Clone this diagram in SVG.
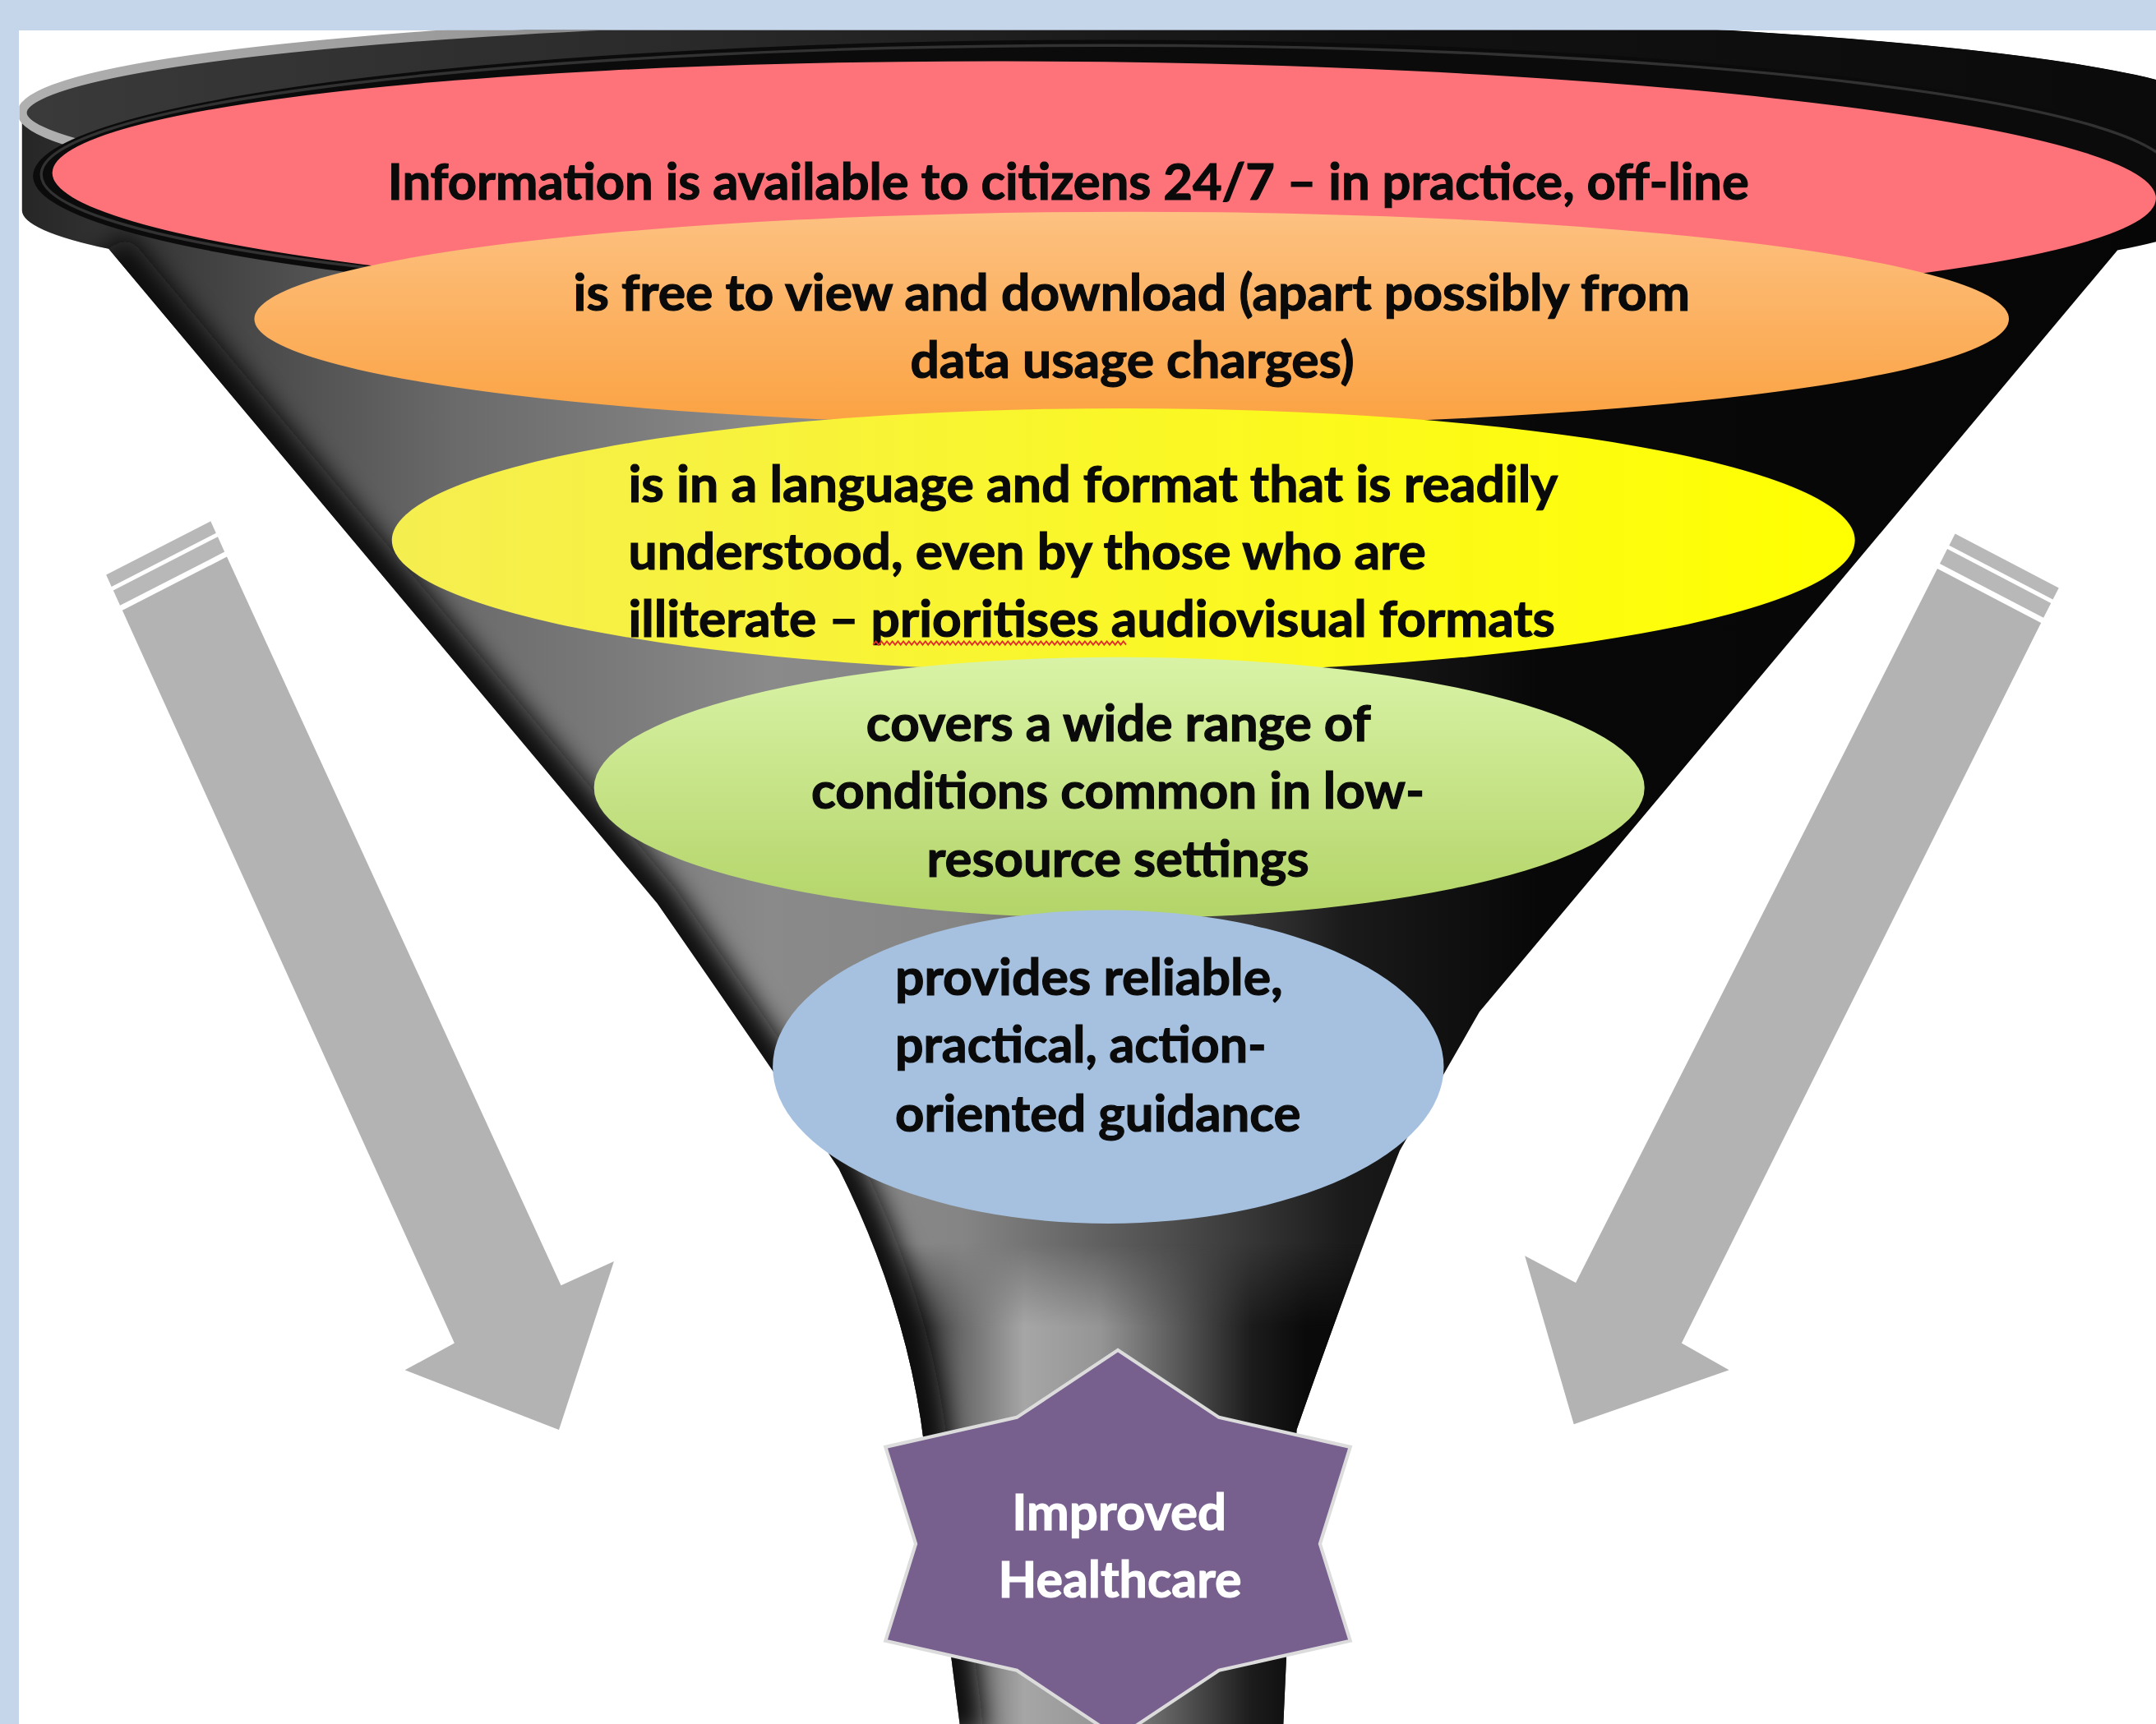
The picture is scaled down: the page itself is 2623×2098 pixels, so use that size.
<svg xmlns="http://www.w3.org/2000/svg" width="2623" height="2098" viewBox="0 0 2623 2098">
<defs>
<style>
.t { font-family: Lato, "Open Sans", "Liberation Sans", sans-serif; font-weight: 700; font-size: 36px; fill: #0a0a0a; stroke: #0a0a0a; stroke-width: 0.7px; }
.w { fill: #ffffff; stroke: #ffffff; }
.arrow { fill: #b3b3b3; }
.band { fill: #b8b8b8; }
</style>
<linearGradient id="gBody" gradientUnits="userSpaceOnUse" x1="16" y1="0" x2="1614" y2="0">
<stop offset="0" stop-color="#262626"/>
<stop offset="0.065" stop-color="#3a3a3a"/>
<stop offset="0.196" stop-color="#6a6a6a"/>
<stop offset="0.34" stop-color="#8a8a8a"/>
<stop offset="0.428" stop-color="#858585"/>
<stop offset="0.522" stop-color="#4e4e4e"/>
<stop offset="0.603" stop-color="#1a1a1a"/>
<stop offset="0.69" stop-color="#080808"/>
<stop offset="1" stop-color="#060606"/>
</linearGradient>
<linearGradient id="gNeck" gradientUnits="userSpaceOnUse" x1="660" y1="0" x2="950" y2="0">
<stop offset="0" stop-color="#222222"/>
<stop offset="0.138" stop-color="#6a6a6a"/>
<stop offset="0.293" stop-color="#a6a6a6"/>
<stop offset="0.483" stop-color="#959595"/>
<stop offset="0.69" stop-color="#555555"/>
<stop offset="0.862" stop-color="#1c1c1c"/>
<stop offset="1" stop-color="#0a0a0a"/>
</linearGradient>
<linearGradient id="gFade" gradientUnits="userSpaceOnUse" x1="0" y1="905" x2="0" y2="965">
<stop offset="0" stop-color="#ffffff" stop-opacity="0"/>
<stop offset="1" stop-color="#ffffff" stop-opacity="1"/>
</linearGradient>
<mask id="mNeck" maskUnits="userSpaceOnUse" x="0" y="0" width="1600" height="1300">
<rect x="600" y="900" width="400" height="370" fill="url(#gFade)"/>
</mask>
<linearGradient id="gRim" gradientUnits="userSpaceOnUse" x1="16" y1="0" x2="1614" y2="0">
<stop offset="0" stop-color="#3a3a3a"/>
<stop offset="0.3" stop-color="#2a2a2a"/>
<stop offset="0.6" stop-color="#121212"/>
<stop offset="1" stop-color="#0a0a0a"/>
</linearGradient>
<linearGradient id="gHi" gradientUnits="userSpaceOnUse" x1="16" y1="0" x2="1614" y2="0">
<stop offset="0" stop-color="#b0b0b0"/>
<stop offset="0.2" stop-color="#9a9a9a"/>
<stop offset="0.45" stop-color="#555555"/>
<stop offset="0.7" stop-color="#222222" stop-opacity="0"/>
<stop offset="1" stop-color="#222222" stop-opacity="0"/>
</linearGradient>
<linearGradient id="gOrange" x1="0" y1="0" x2="0" y2="1">
<stop offset="0" stop-color="#fdc181"/>
<stop offset="1" stop-color="#fba242"/>
</linearGradient>
<linearGradient id="gYellow" x1="0" y1="0" x2="1" y2="0">
<stop offset="0" stop-color="#f5ee50"/>
<stop offset="1" stop-color="#ffff00"/>
</linearGradient>
<linearGradient id="gGreen" x1="0" y1="0" x2="0" y2="1">
<stop offset="0" stop-color="#d9f3a6"/>
<stop offset="1" stop-color="#b3d468"/>
</linearGradient>
<path id="funnelShape" d="M 16 82 A 799 72 0 0 1 1614 82 L 1614 153 A 799 72 0 0 1 1540 182 L 1076 736 Q 1045 790 1018 837 Q 985 920 943 1040 L 933 1262 L 699 1262 L 672 1050 Q 660 950 610 850 Q 560 775 478 657 L 79 181 A 799 72 0 0 1 16 153 Z"/>
<clipPath id="cFunnel"><use href="#funnelShape"/></clipPath>
<clipPath id="cPanel"><rect x="14" y="22" width="1560" height="1240"/></clipPath>
<filter id="blur" x="-20%" y="-20%" width="140%" height="140%"><feGaussianBlur stdDeviation="9"/></filter>
</defs>

<rect x="0" y="0" width="2623" height="2098" fill="#c5d6eb"/>
<rect x="23" y="37" width="2600" height="2061" fill="#ffffff"/>

<g transform="scale(1.67283,1.67305)">
<g clip-path="url(#cPanel)">

<g id="connectors">
<g id="arrow-left">
<polygon class="arrow" points="89,444 165,405 408,935 446.5,917.5 406.5,1040 294.5,996.5 330.5,977"/>
<polygon class="band" points="87.3,440.4 163.3,401.4 158.4,390.4 82.4,429.4"/>
<polygon class="band" points="81.1,426.7 157.1,387.7 153.2,379.1 77.2,418.1"/>
</g>
<g id="arrow-right">
<polygon class="arrow" points="1409,413.6 1484.4,453 1223,977 1257.5,996.6 1144.6,1036 1109,913.5 1146,933"/>
<polygon class="band" points="1410.8,410 1486.2,449.4 1491.6,438.7 1416.2,399.3"/>
<polygon class="band" points="1417.6,396.7 1493,436.1 1497.3,427.6 1421.9,388.2"/>
</g>
</g>

<g id="funnel">
<use href="#funnelShape" fill="url(#gBody)"/>
<g clip-path="url(#cFunnel)">
<rect x="600" y="900" width="400" height="370" fill="url(#gNeck)" mask="url(#mNeck)"/>
<path d="M 79 181 L 478 657 Q 560 775 610 850 Q 660 950 672 1050 L 699 1262" fill="none" stroke="#0a0a0a" stroke-width="34" filter="url(#blur)"/>
<ellipse cx="815" cy="82" rx="799" ry="72" fill="url(#gRim)"/>
</g>
<ellipse cx="815" cy="82" rx="799" ry="72" fill="none" stroke="url(#gHi)" stroke-width="7"/>
<ellipse cx="806" cy="128" rx="782" ry="99" fill="#0b0b0b"/>
<ellipse cx="805" cy="127" rx="775" ry="94" fill="none" stroke="#5a5a5a" stroke-width="2" opacity="0.5"/>
</g>

<g id="node-available">
<ellipse cx="803" cy="135" rx="765" ry="90" fill="#fe737a" transform="rotate(0.7 803 135)"/>
<text class="t" x="282" y="145" textLength="990" lengthAdjust="spacingAndGlyphs">Information is available to citizens 24/7 – in practice, off-line</text>
</g>

<g id="node-free">
<ellipse cx="823" cy="232" rx="638" ry="78" fill="url(#gOrange)"/>
<text class="t" x="417" y="226" textLength="812" lengthAdjust="spacingAndGlyphs">is free to view and download (apart possibly from</text>
<text class="t" x="662" y="275" textLength="323" lengthAdjust="spacingAndGlyphs">data usage charges)</text>
</g>

<g id="node-language">
<ellipse cx="817" cy="393" rx="532" ry="96" fill="url(#gYellow)"/>
<text class="t" x="457" y="365" textLength="676" lengthAdjust="spacingAndGlyphs">is in a language and format that is readily</text>
<text class="t" x="457" y="414" textLength="580" lengthAdjust="spacingAndGlyphs">understood, even by those who are</text>
<text class="t" x="457" y="463" textLength="674" lengthAdjust="spacingAndGlyphs">illiterate – prioritises audiovisual formats</text>
<path d="M 635 469 l2 -2.5 l2 2.5 l2 -2.5 l2 2.5 l2 -2.5 l2 2.5 l2 -2.5 l2 2.5 l2 -2.5 l2 2.5 l2 -2.5 l2 2.5 l2 -2.5 l2 2.5 l2 -2.5 l2 2.5 l2 -2.5 l2 2.5 l2 -2.5 l2 2.5 l2 -2.5 l2 2.5 l2 -2.5 l2 2.5 l2 -2.5 l2 2.5 l2 -2.5 l2 2.5 l2 -2.5 l2 2.5 l2 -2.5 l2 2.5 l2 -2.5 l2 2.5 l2 -2.5 l2 2.5 l2 -2.5 l2 2.5 l2 -2.5 l2 2.5 l2 -2.5 l2 2.5 l2 -2.5 l2 2.5 l2 -2.5 l2 2.5 l2 -2.5 l2 2.5 l2 -2.5 l2 2.5 l2 -2.5 l2 2.5 l2 -2.5 l2 2.5 l2 -2.5 l2 2.5 l2 -2.5 l2 2.5 l2 -2.5 l2 2.5 l2 -2.5 l2 2.5 l2 -2.5 l2 2.5 l2 -2.5 l2 2.5 l2 -2.5 l2 2.5 l2 -2.5 l2 2.5 l2 -2.5 l2 2.5 l2 -2.5 l2 2.5 l2 -2.5 l2 2.5 l2 -2.5 l2 2.5 l2 -2.5 l2 2.5 l2 -2.5 l2 2.5 l2 -2.5 l2 2.5 l2 -2.5 l2 2.5 l2 -2.5 l2 2.5 l2 -2.5 l2 2.5 l2 -2.5 l2 2.5" fill="none" stroke="#e0302a" stroke-width="1.1"/>
</g>

<g id="node-range">
<ellipse cx="814" cy="573" rx="382" ry="95" fill="url(#gGreen)"/>
<text class="t" x="630" y="539" textLength="367" lengthAdjust="spacingAndGlyphs">covers a wide range of</text>
<text class="t" x="590" y="588" textLength="446" lengthAdjust="spacingAndGlyphs">conditions common in low-</text>
<text class="t" x="674" y="638" textLength="278" lengthAdjust="spacingAndGlyphs">resource settings</text>
</g>

<g id="node-guidance">
<ellipse cx="806" cy="776" rx="244" ry="114" fill="#a6c1df"/>
<text class="t" x="651" y="724" textLength="282" lengthAdjust="spacingAndGlyphs">provides reliable,</text>
<text class="t" x="651" y="773" textLength="270" lengthAdjust="spacingAndGlyphs">practical, action-</text>
<text class="t" x="651" y="823" textLength="295" lengthAdjust="spacingAndGlyphs">oriented guidance</text>
</g>

<g id="node-healthcare">
<path d="M 813 982 L 886.5 1031 L 982 1052.5 L 960 1123 L 982 1193.5 L 886.5 1215 L 813 1264 L 739.5 1215 L 644 1193.5 L 666 1123 L 644 1052.5 L 739.5 1031 Z" fill="#775f8e" stroke="#dcdcdc" stroke-width="2.5" stroke-linejoin="miter"/>
<text class="t w" x="736" y="1113" textLength="156" lengthAdjust="spacingAndGlyphs">Improved</text>
<text class="t w" x="726" y="1162" textLength="177" lengthAdjust="spacingAndGlyphs">Healthcare</text>
</g>

</g>
</g>
</svg>
